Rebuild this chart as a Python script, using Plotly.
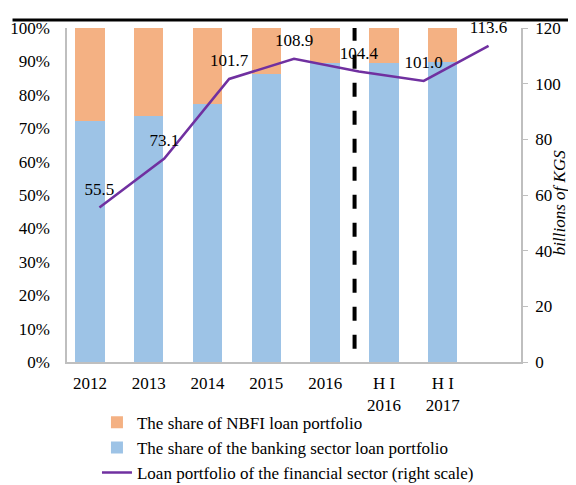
import plotly.graph_objects as go

# data
periods = ["2012", "2013", "2014", "2015", "2016", "H I<br>2016", "H I<br>2017"]
bank_share = [0.722, 0.737, 0.773, 0.862, 0.894, 0.894, 0.897]
nbfi_share = [round(1 - v, 3) for v in bank_share]
loan_portfolio = [55.5, 73.1, 101.7, 108.9, 104.4, 101.0, 113.6]
loan_labels = ["55.5", "73.1", "101.7", "108.9", "104.4", "101.0", "113.6"]

BLUE = "#9dc3e6"
ORANGE = "#f4b183"
PURPLE = "#7030a0"
AXIS_GRAY = "#bfbfbf"
FONT = {"family": "Liberation Serif, Times New Roman, serif", "size": 17, "color": "#000000"}

pos = list(range(len(periods)))

fig = go.Figure()
fig.add_trace(go.Bar(
    x=pos, y=bank_share, name="The share of the banking sector loan portfolio",
    marker={"color": BLUE, "line": {"width": 0}}, width=0.5, legendrank=2,
))
fig.add_trace(go.Bar(
    x=pos, y=nbfi_share, name="The share of NBFI loan portfolio",
    marker={"color": ORANGE, "line": {"width": 0}}, width=0.5, legendrank=1,
))
fig.add_trace(go.Scatter(
    x=pos, y=loan_portfolio, name="Loan portfolio of the financial sector (right scale)",
    mode="lines", line={"color": PURPLE, "width": 2.5},
    xaxis="x2", yaxis="y2", legendrank=3,
))
# value labels, pushed up by an invisible marker
fig.add_trace(go.Scatter(
    x=pos, y=loan_portfolio, mode="markers+text", text=loan_labels,
    textposition="top center", textfont=FONT, marker={"size": 12, "opacity": 0},
    cliponaxis=False, showlegend=False, hoverinfo="skip",
    xaxis="x2", yaxis="y2",
))

# dashed separator between annual and half-year data
fig.add_shape(type="line", xref="x", yref="y", x0=4.5, x1=4.5, y0=0.04, y1=1.0,
              line={"color": "#000000", "width": 4, "dash": "14px,14px"})
# rule at top of the page
fig.add_shape(type="line", xref="paper", yref="paper", x0=-0.12, x1=1.12, y0=1.024, y1=1.024,
              line={"color": "#000000", "width": 3})

fig.add_annotation(text="<i>billions of KGS</i>", xref="paper", yref="paper",
                   x=1.084, y=0.476, xanchor="center", yanchor="middle",
                   textangle=-90, showarrow=False, font=FONT)

# page body has an 8px margin, so the figure is a little smaller than the window
fig.update_layout(
    width=568, height=477,
    margin={"l": 59, "r": 55, "t": 20, "b": 123, "autoexpand": False},
    paper_bgcolor="white", plot_bgcolor="white",
    font=FONT, barmode="stack", bargap=0,
    showlegend=True,
    legend={"x": 0.066, "y": -0.128, "xanchor": "left", "yanchor": "top",
            "traceorder": "normal", "font": FONT, "tracegroupgap": 0, "itemwidth": 30,
            "bgcolor": "rgba(0,0,0,0)"},
    xaxis={"range": [-0.39, 7.33], "tickmode": "array", "tickvals": pos, "ticktext": periods,
           "showline": True, "linecolor": AXIS_GRAY, "linewidth": 1.5, "ticks": "",
           "ticklabelstandoff": 5,
           "showgrid": False, "zeroline": False, "tickfont": FONT},
    xaxis2={"range": [-0.5, 6.5], "overlaying": "x", "visible": False},
    yaxis={"range": [0, 1], "tickformat": ".0%", "dtick": 0.1, "showline": True,
           "linecolor": AXIS_GRAY, "linewidth": 1.5, "ticks": "", "showgrid": False,
           "ticklabelstandoff": 12,
           "zeroline": False, "tickfont": FONT},
    yaxis2={"range": [0, 120], "dtick": 20, "overlaying": "y", "side": "right",
            "showline": True, "linecolor": AXIS_GRAY, "linewidth": 1.5, "ticks": "outside",
            "ticklen": 5, "tickcolor": AXIS_GRAY, "showgrid": False, "zeroline": False,
            "ticklabelstandoff": 4, "tickfont": FONT},
)

fig.write_html("out.html")
